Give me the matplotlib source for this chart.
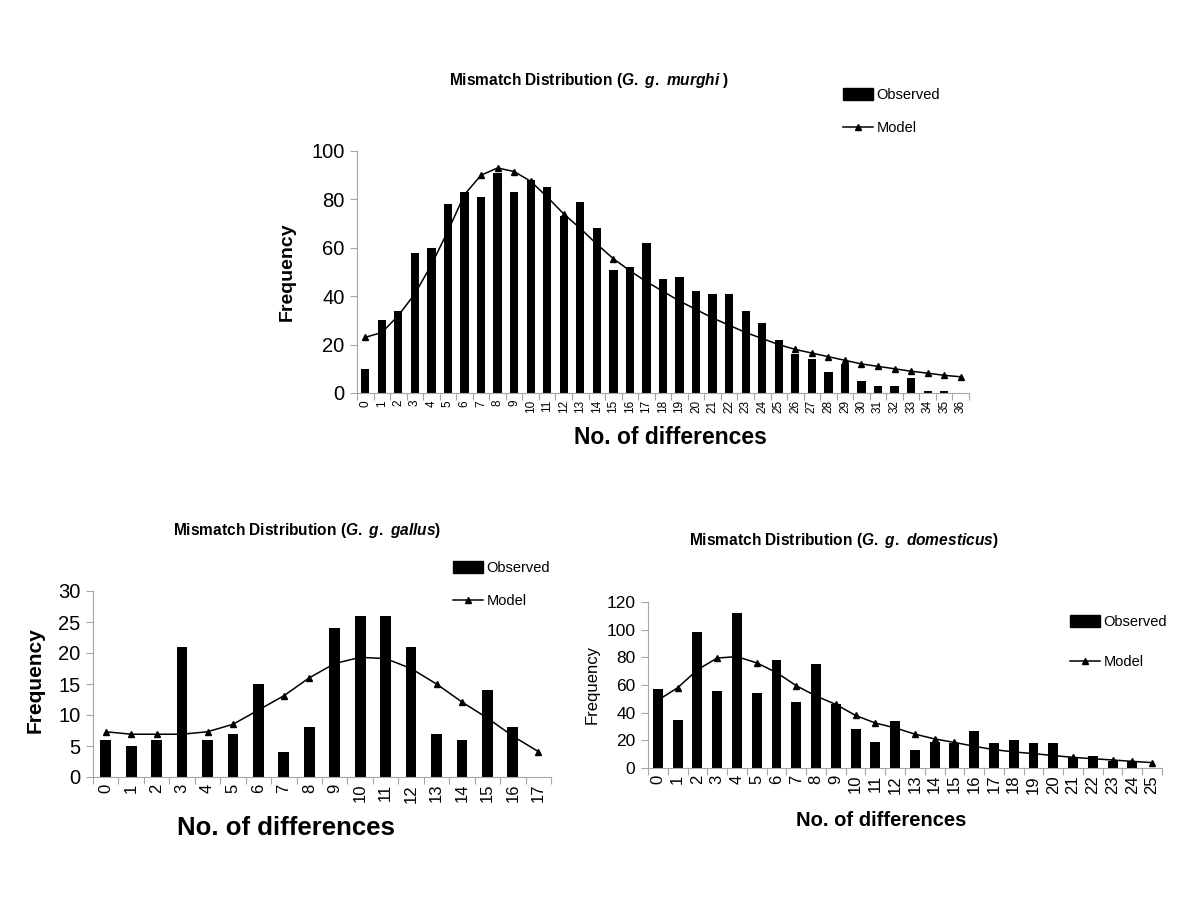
import matplotlib
matplotlib.use("Agg")
import matplotlib.pyplot as plt
from matplotlib.lines import Line2D
from matplotlib.patches import Patch

plt.rcParams['font.family'] = ['Liberation Sans', 'DejaVu Sans']
plt.rcParams['mathtext.fontset'] = 'custom'
plt.rcParams['mathtext.it'] = 'Liberation Sans:italic:bold'
plt.rcParams['mathtext.rm'] = 'Liberation Sans:bold'

# G. g. murghi
murghi_obs = [10, 30, 34, 58, 60, 78, 83, 81, 91, 83, 88, 85, 73, 79, 68, 51,
              52, 62, 47, 48, 42, 41, 41, 34, 29, 22, 16, 14, 8.5, 12, 5, 3,
              3, 6, 1, 1, 0]
murghi_model = [23, 25, 32, 41, 53, 67, 82, 90, 93, 91.5, 87.5, 81, 74, 68,
                61.5, 55.5, 50.5, 46, 42, 38, 34.5, 31, 28, 25, 22.5, 20, 18,
                16.5, 15, 13.5, 12, 11, 10, 9, 8.2, 7.3, 6.7]

# G. g. gallus
gallus_obs = [6, 5, 6, 21, 6, 7, 15, 4, 8, 24, 26, 26, 21, 7, 6, 14, 8, 0]
gallus_model = [7.3, 6.9, 6.9, 6.9, 7.3, 8.5, 10.8, 13.1, 16, 18.3, 19.3,
                19.1, 17.5, 15, 12.1, 9.5, 6.6, 4.1]

# G. g. domesticus
dom_obs = [57, 35, 98, 56, 112, 54, 78, 48, 75, 46, 28, 19, 34, 13, 19, 18,
           27, 18, 20, 18, 18, 8, 8.5, 5, 5, 0]
dom_model = [49, 58, 71, 79.5, 80.5, 76, 69, 59.5, 52, 46, 38, 32.5, 29,
             24.5, 21, 18.5, 15.7, 13.3, 11.6, 10.4, 9, 7.7, 6.7, 5.8, 4.8, 3.9]

GREY = '#a6a6a6'


def fx(px):
    return px / 1200.0


def fy(py):
    return 1 - py / 900.0


def panel(fig, box, obs, model, ymax, ystep, bar_w, ytick_fs, xtick_fs):
    left, top, right, bottom = box
    ax = fig.add_axes([fx(left), fy(bottom), fx(right - left), (bottom - top) / 900.0])
    x = list(range(len(obs)))
    ax.bar(x, obs, width=bar_w, color='black', zorder=2)
    ax.plot(x, model, color='black', lw=1.1, marker='^', ms=5, zorder=3)
    ax.set_xlim(-0.5, len(obs) - 0.5)
    ax.set_ylim(0, ymax)
    ax.set_yticks(range(0, ymax + 1, ystep))
    ax.set_xticks(x)
    ax.set_xticklabels([str(i) for i in x], rotation=90, fontsize=xtick_fs)
    ax.set_xticks([i - 0.5 for i in range(len(obs) + 1)], minor=True)
    ax.tick_params(axis='x', which='major', length=0, pad=5)
    ax.tick_params(axis='x', which='minor', length=5, color=GREY, width=0.8)
    ax.tick_params(axis='y', length=5, color=GREY, width=0.8, labelsize=ytick_fs, pad=4)
    for s in ['top', 'right']:
        ax.spines[s].set_visible(False)
    for s in ['left', 'bottom']:
        ax.spines[s].set_color(GREY)
        ax.spines[s].set_linewidth(0.8)
    return ax


def legend(fig, ax, px, py, spacing):
    handles = [Patch(facecolor='black', edgecolor='black'),
               Line2D([0], [0], color='black', lw=1.1, marker='^', ms=5)]
    ax.legend(handles, ['Observed', 'Model'], loc='upper left',
              bbox_to_anchor=(fx(px), fy(py)), bbox_transform=fig.transFigure,
              frameon=False, fontsize=10.5, handlelength=2.06, handleheight=0.8,
              handletextpad=0.25, labelspacing=spacing, borderpad=0, borderaxespad=0)


fig = plt.figure(figsize=(12, 9), dpi=100)

# top panel
ax1 = panel(fig, (357, 151, 969, 393), murghi_obs, murghi_model, 100, 20, 0.5, 14.5, 8.5)
fig.text(fx(449), fy(80), r'Mismatch Distribution ($\mathit{G.\ g.\ murghi}$ )',
         fontsize=11.2, fontweight='bold', ha='left', va='center')
fig.text(fx(287), fy(272), 'Frequency', fontsize=14, fontweight='bold',
         rotation=90, ha='center', va='center')
fig.text(fx(670), fy(438), 'No. of differences', fontsize=16.5, fontweight='bold',
         ha='center', va='center')
legend(fig, ax1, 843, 88, 1.3)

# bottom left panel
ax2 = panel(fig, (93, 591, 551, 777), gallus_obs, gallus_model, 30, 5, 0.42, 14.5, 12)
fig.text(fx(173), fy(531), r'Mismatch Distribution ($\mathit{G.\ g.\ gallus}$)',
         fontsize=11.2, fontweight='bold', ha='left', va='center')
fig.text(fx(35), fy(680), 'Frequency', fontsize=15, fontweight='bold',
         rotation=90, ha='center', va='center')
fig.text(fx(286), fy(828), 'No. of differences', fontsize=18.5, fontweight='bold',
         ha='center', va='center')
legend(fig, ax2, 453, 561, 1.3)

# bottom right panel
ax3 = panel(fig, (648, 602, 1162, 768), dom_obs, dom_model, 120, 20, 0.5, 12.5, 12)
fig.text(fx(689), fy(540), r'Mismatch Distribution ($\mathit{G.\ g.\ domesticus}$)',
         fontsize=11.2, fontweight='bold', ha='left', va='center')
fig.text(fx(592), fy(685), 'Frequency', fontsize=12,
         rotation=90, ha='center', va='center')
fig.text(fx(881), fy(820), 'No. of differences', fontsize=14.5, fontweight='bold',
         ha='center', va='center')
legend(fig, ax3, 1070, 615, 1.8)

fig.savefig('out.png', dpi=100)
